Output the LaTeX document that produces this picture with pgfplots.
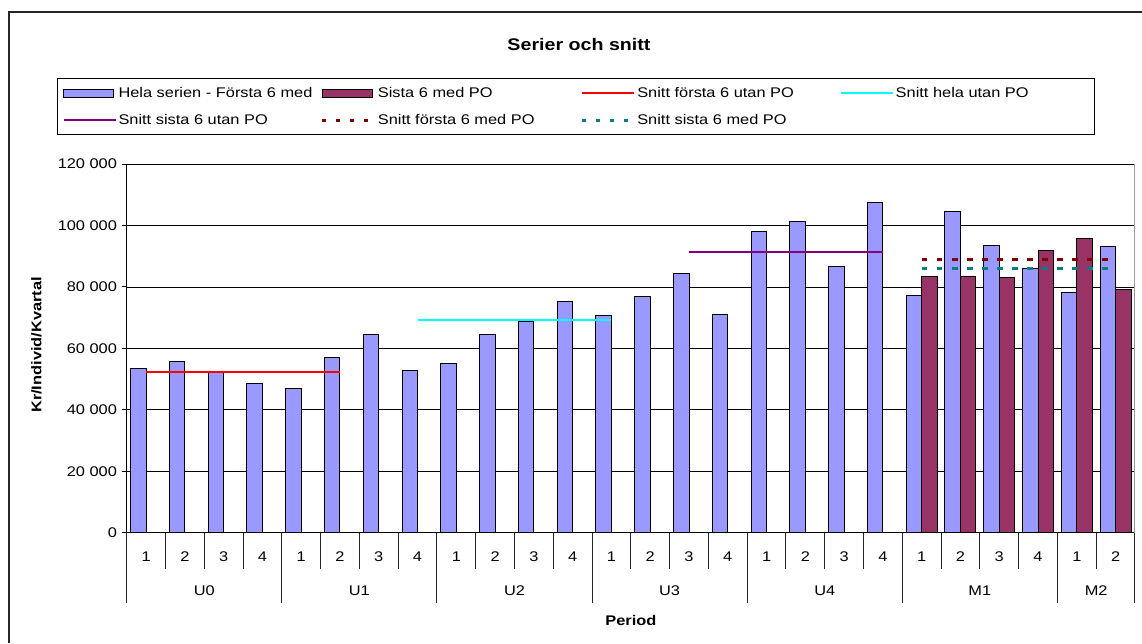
\documentclass[border=0pt]{standalone}
\usepackage{fontspec}
\setmainfont{Liberation Sans}[FakeStretch=1.17]
\usepackage{pgfplots}
\pgfplotsset{compat=1.18}
\definecolor{barblue}{HTML}{9999FF}
\definecolor{barmaroon}{HTML}{993366}
\definecolor{lpurple}{HTML}{800080}
\definecolor{ldarkred}{HTML}{800000}
\definecolor{lteal}{HTML}{008080}
\definecolor{lcyan}{HTML}{00FFFF}
\begin{document}
\begin{tikzpicture}[x=0.75pt,y=0.75pt]
\useasboundingbox (0,0) rectangle (1142,643);
\draw[line width=1pt, black!85] (9,0) -- (9,631) -- (1142,631);
\node[font=\fontsize{12.6}{15}\selectfont\bfseries] at (579,598) {Serier och snitt};
\node[font=\fontsize{10.5}{12}\selectfont\bfseries, rotate=90] at (36.5,298) {Kr/Individ/Kvartal};
\begin{axis}[
  at={(95.025pt,82.725pt)}, anchor=south west,
  scale only axis, width=756.2pt, height=276.5pt,
  xmin=-0.5, xmax=25.5, ymin=0, ymax=120000,
  axis x line=bottom, axis y line=left,
  axis line style={-, black, line width=0.9pt},
  xtick=\empty,
  ytick={0,20000,40000,60000,80000,100000,120000},
  yticklabels={0,20 000,40 000,60 000,80 000,100 000,120 000},
  scaled y ticks=false,
  tick align=outside, major tick length=3.75pt,
  tick style={black, line width=0.75pt},
  ymajorgrids, grid style={black, line width=0.6pt},
  ticklabel style={font=\fontsize{10.5}{12}\selectfont},
  clip=false,
  legend columns=4,
  legend cell align=left,
  legend style={at={(-0.0691,1.2324)}, anchor=north west, draw=black, line width=0.75pt,
    inner xsep=3.75pt, inner ysep=0.9pt, font=\fontsize{10.5}{12}\selectfont,
    /tikz/every even column/.append style={column sep=0pt},
    nodes={inner sep=0pt, text height=13pt, text depth=7pt}},
]
\addplot[ybar, bar width=0.4, bar shift=-0.2, fill=barblue, draw=black, line width=0.75pt,
  legend image code/.code={\draw[fill=barblue, draw=black, line width=0.75pt] (0pt,-3.25pt) rectangle (37.5pt,3.25pt); \path (39pt,0pt);}]
  coordinates {(0,53600) (1,55800) (2,52000) (3,48600) (4,47000) (5,57000) (6,64400) (7,52700)
  (8,55200) (9,64400) (10,68800) (11,75200) (12,70600) (13,76800) (14,84300) (15,71000)
  (16,98000) (17,101400) (18,86500) (19,107600) (20,77300) (21,104700) (22,93400) (23,85900)
  (24,78100) (25,93000)};
\addlegendentry{\makebox[153.3pt][l]{\hspace{1.5pt}Hela serien - Första 6 med}}
\addplot[ybar, bar width=0.4, bar shift=0.2, fill=barmaroon, draw=black, line width=0.75pt,
  legend image code/.code={\draw[fill=barmaroon, draw=black, line width=0.75pt] (0pt,-3.25pt) rectangle (37.5pt,3.25pt); \path (39pt,0pt);}]
  coordinates {(20,83450) (21,83450) (22,83000) (23,91800) (24,95600) (25,79300)};
\addlegendentry{\makebox[153.3pt][l]{\hspace{1.5pt}Sista 6 med PO}}
\addplot[red, line width=1.5pt, mark=none,
  legend image code/.code={\draw[red, line width=1.5pt] (0pt,0pt) -- (39pt,0pt);}]
  coordinates {(0,52400) (5,52400)};
\addlegendentry{\makebox[153.3pt][l]{\hspace{1.5pt}Snitt första 6 utan PO}}
\addplot[lcyan, line width=1.5pt, mark=none,
  legend image code/.code={\draw[lcyan, line width=1.5pt] (0pt,0pt) -- (39pt,0pt);}]
  coordinates {(7,69300) (12,69300)};
\addlegendentry{\makebox[147pt][l]{\hspace{1.5pt}Snitt hela utan PO}}
\addplot[lpurple, line width=1.5pt, mark=none,
  legend image code/.code={\draw[lpurple, line width=1.5pt] (0pt,0pt) -- (39pt,0pt);}]
  coordinates {(14,91450) (19,91450)};
\addlegendentry{\makebox[153.3pt][l]{\hspace{1.5pt}Snitt sista 6 utan PO}}
\addplot[ldarkred, line width=2.25pt, mark=none, dash pattern=on 4.3pt off 7pt,
  legend image code/.code={\draw[ldarkred, line width=2.25pt, dash pattern=on 3pt off 7.5pt] (0pt,0pt) -- (39pt,0pt);}]
  coordinates {(20,89000) (25,89000)};
\addlegendentry{\makebox[153.3pt][l]{\hspace{1.5pt}Snitt första 6 med PO}}
\addplot[lteal, line width=2.25pt, mark=none, dash pattern=on 4.3pt off 7pt,
  legend image code/.code={\draw[lteal, line width=2.25pt, dash pattern=on 3pt off 7.5pt] (0pt,0pt) -- (39pt,0pt);}]
  coordinates {(20,86050) (25,86050)};
\addlegendentry{\makebox[153.3pt][l]{\hspace{1.5pt}Snitt sista 6 med PO}}
% right border of plot area
\draw[black!40, line width=0.75pt] (axis cs:25.5,0) -- (axis cs:25.5,120000);
% category separators
\pgfplotsinvokeforeach{0.5,1.5,2.5,4.5,5.5,6.5,8.5,9.5,10.5,12.5,13.5,14.5,16.5,17.5,18.5,20.5,21.5,22.5,24.5}{
  \draw[black!85, line width=0.75pt] (axis cs:#1,0) -- ++(0pt,-27pt);
}
% group separators
\pgfplotsinvokeforeach{-0.5,3.5,7.5,11.5,15.5,19.5,23.5,25.5}{
  \draw[black!85, line width=0.75pt] (axis cs:#1,0) -- ++(0pt,-52.5pt);
}
% category labels
\pgfplotsinvokeforeach{0,4,8,12,16,20,24}{
  \node[font=\fontsize{10.5}{12}\selectfont, anchor=base] at (axis cs:#1,0) [yshift=-21.8pt] {1};
}
\pgfplotsinvokeforeach{1,5,9,13,17,21,25}{
  \node[font=\fontsize{10.5}{12}\selectfont, anchor=base] at (axis cs:#1,0) [yshift=-21.8pt] {2};
}
\pgfplotsinvokeforeach{2,6,10,14,18,22}{
  \node[font=\fontsize{10.5}{12}\selectfont, anchor=base] at (axis cs:#1,0) [yshift=-21.8pt] {3};
}
\pgfplotsinvokeforeach{3,7,11,15,19,23}{
  \node[font=\fontsize{10.5}{12}\selectfont, anchor=base] at (axis cs:#1,0) [yshift=-21.8pt] {4};
}
\node[font=\fontsize{10.5}{12}\selectfont, anchor=base] at (axis cs:1.5,0) [yshift=-46.8pt] {U0};
\node[font=\fontsize{10.5}{12}\selectfont, anchor=base] at (axis cs:5.5,0) [yshift=-46.8pt] {U1};
\node[font=\fontsize{10.5}{12}\selectfont, anchor=base] at (axis cs:9.5,0) [yshift=-46.8pt] {U2};
\node[font=\fontsize{10.5}{12}\selectfont, anchor=base] at (axis cs:13.5,0) [yshift=-46.8pt] {U3};
\node[font=\fontsize{10.5}{12}\selectfont, anchor=base] at (axis cs:17.5,0) [yshift=-46.8pt] {U4};
\node[font=\fontsize{10.5}{12}\selectfont, anchor=base] at (axis cs:21.5,0) [yshift=-46.8pt] {M1};
\node[font=\fontsize{10.5}{12}\selectfont, anchor=base] at (axis cs:24.5,0) [yshift=-46.8pt] {M2};
\node[font=\fontsize{10.5}{12}\selectfont\bfseries, anchor=base] at (axis cs:12.5,0) [yshift=-69.3pt] {Period};
\end{axis}
\end{tikzpicture}
\end{document}
